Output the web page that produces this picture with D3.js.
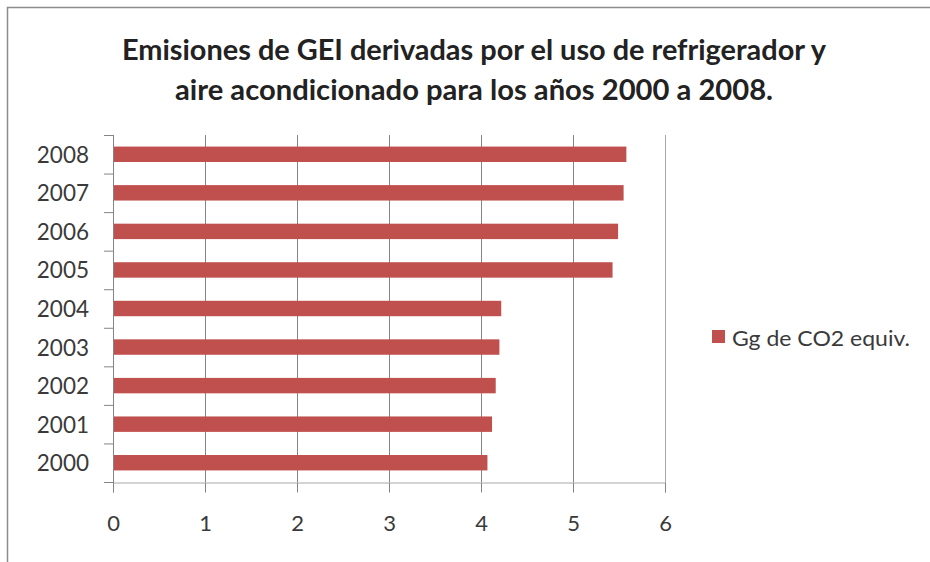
<!DOCTYPE html>
<html>
<head>
<meta charset="utf-8">
<script src="https://cdn.jsdelivr.net/npm/d3@7"></script>
<style>
    body { margin: 0; background: #fff; }
    text { font-family: Lato, "Liberation Sans", sans-serif; fill: #3a3a3a; }
</style>
</head>
<body>
<svg id="chart"></svg>
<script>

const years = ['2000', '2001', '2002', '2003', '2004', '2005', '2006', '2007', '2008']
const values = [4.07, 4.12, 4.16, 4.20, 4.22, 5.43, 5.49, 5.55, 5.58]
const xTicks = [0, 1, 2, 3, 4, 5, 6]
const titleLines = ['Emisiones de GEI derivadas por el uso de refrigerador y', 'aire acondicionado  para los años 2000 a 2008.']
const titleWidths = [704, 598]
const seriesName = 'Gg de CO2 equiv.'

const data = years.map((y, i) => ({ year: y, value: values[i] }))

const width = 930
const height = 562
const margin = { top: 135, right: 266, bottom: 80, left: 113 }
const barColor = '#c0504d'
const gridColor = '#858585'

const svg = d3.select('#chart')
    .attr('width', width)
    .attr('height', height)

// outer chart border (cut off at right and bottom)
svg.append('rect')
    .attr('x', 7.5)
    .attr('y', 7.5)
    .attr('width', 1000)
    .attr('height', 1000)
    .attr('fill', 'none')
    .attr('stroke', '#8c8c8c')
    .attr('stroke-width', 1.5)

// title
svg.selectAll('.title')
    .data(titleLines)
    .enter().append('text')
    .attr('class', 'title')
    .attr('x', 474)
    .attr('y', (d, i) => 49 + i * 40)
    .attr('text-anchor', 'middle')
    .attr('dominant-baseline', 'central')
    .attr('font-size', '28px')
    .attr('font-weight', 'bold')
    .attr('textLength', (d, i) => titleWidths[i])
    .attr('lengthAdjust', 'spacingAndGlyphs')
    .style('fill', '#222')
    .text(d => d)

const x = d3.scaleLinear()
    .domain([0, 6])
    .range([margin.left, width - margin.right + 1])

const y = d3.scaleBand()
    .domain(years.slice().reverse())
    .range([margin.top, height - margin.bottom])
    .paddingInner(0.6)
    .paddingOuter(0.3)

const plotBottom = height - margin.bottom

// vertical gridlines
svg.append('g')
    .selectAll('line')
    .data(xTicks.slice(1))
    .enter().append('line')
    .attr('x1', d => x(d) + 0.5)
    .attr('x2', d => x(d) + 0.5)
    .attr('y1', margin.top)
    .attr('y2', plotBottom)
    .attr('stroke', (d, i) => d === 6 ? '#a8a8a8' : gridColor)
    .attr('stroke-width', 1)

// bars
svg.append('g')
    .selectAll('rect')
    .data(data)
    .enter().append('rect')
    .attr('x', x(0))
    .attr('y', d => y(d.year))
    .attr('width', d => x(d.value) - x(0))
    .attr('height', y.bandwidth())
    .attr('fill', barColor)

// x axis
const xAxis = svg.append('g')
    .attr('transform', 'translate(0,' + (plotBottom + 0.5) + ')')
    .call(d3.axisBottom(x).tickValues(xTicks).tickSize(10).tickPadding(23).tickFormat(d3.format('d')))
xAxis.select('.domain').attr('stroke', '#a8a8a8')
xAxis.selectAll('.tick line').attr('stroke', gridColor)
xAxis.selectAll('text')
    .attr('font-size', '22px')
    .style('font-family', 'Lato, "Liberation Sans", sans-serif')
    .style('fill', '#3a3a3a')

// y axis: ticks on category boundaries, labels at band centers
const step = y.step()
const boundaries = d3.range(years.length + 1).map(i => margin.top + i * step)
svg.append('g')
    .selectAll('line')
    .data(boundaries)
    .enter().append('line')
    .attr('x1', x(0) - 9)
    .attr('x2', x(0))
    .attr('y1', d => d + 0.5)
    .attr('y2', d => d + 0.5)
    .attr('stroke', gridColor)

svg.append('line')
    .attr('x1', x(0) + 0.5)
    .attr('x2', x(0) + 0.5)
    .attr('y1', margin.top)
    .attr('y2', plotBottom + 10)
    .attr('stroke', gridColor)

svg.append('g')
    .selectAll('text')
    .data(years)
    .enter().append('text')
    .attr('x', 89)
    .attr('y', d => y(d) + y.bandwidth() / 2)
    .attr('text-anchor', 'end')
    .attr('dominant-baseline', 'central')
    .attr('font-size', '22.5px')
    .text(d => d)

// legend
const legend = svg.append('g')
    .attr('transform', 'translate(712,330)')

legend.append('rect')
    .attr('width', 13)
    .attr('height', 13)
    .attr('fill', barColor)

legend.append('text')
    .attr('x', 20)
    .attr('y', 7)
    .attr('dominant-baseline', 'central')
    .attr('font-size', '22px')
    .attr('textLength', 178)
    .attr('lengthAdjust', 'spacingAndGlyphs')
    .text(seriesName)

</script>
</body>
</html>
